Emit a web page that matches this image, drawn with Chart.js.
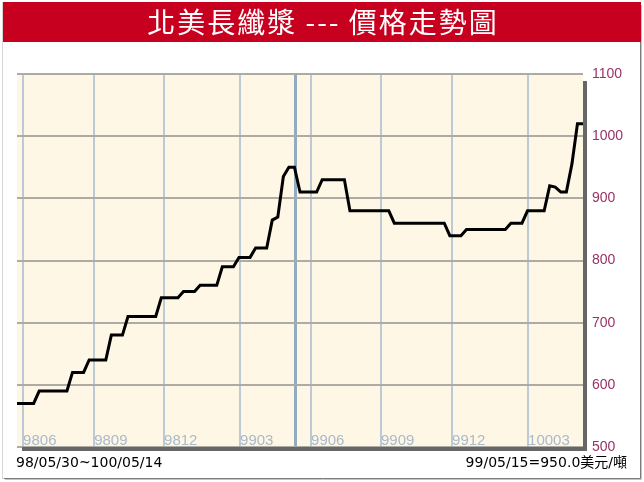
<!DOCTYPE html>
<html>
<head>
<meta charset="utf-8">
<script src="https://cdn.jsdelivr.net/npm/chart.js@4/dist/chart.umd.min.js"></script>
<style>
  html, body { margin: 0; padding: 0; background: #fff; }
  #wrap { width: 644px; height: 482px; }
</style>
</head>
<body>
<div id="wrap"><canvas id="priceChart" width="644" height="482"></canvas></div>
<script>
/* 北美長纖漿 price chart */

const titleText  = '北美長纖漿 --- 價格走勢圖';
const rangeText  = '98/05/30~100/05/14';
const markText   = '99/05/15=950.0美元/噸';

// weekly prices (美元/噸), 98/05/30 .. 100/05/14
const prices = [
    570, 570, 570, 570,
    590, 590, 590, 590, 590, 590,
    620, 620, 620,
    640, 640, 640, 640,
    680, 680, 680,
    710, 710, 710, 710, 710, 710,
    740, 740, 740, 740,
    750, 750, 750,
    760, 760, 760, 760,
    790, 790, 790,
    805, 805, 805,
    820, 820, 820,
    865, 870,
    935, 950, 950,
    910, 910, 910, 910,
    930, 930, 930, 930, 930,
    880, 880, 880, 880, 880, 880, 880, 880,
    860, 860, 860, 860, 860, 860, 860, 860, 860, 860,
    840, 840, 840,
    850, 850, 850, 850, 850, 850, 850, 850,
    860, 860, 860,
    880, 880, 880, 880,
    920, 918,
    910, 910,
    955, 1020, 1020
];

const monthLabels = ['9806', '9809', '9812', '9903', '9906', '9909', '9912', '10003'];
const monthPos    = [1.1, 13.9, 26.5, 40.2, 53.0, 65.6, 78.4, 92.1];
const markPos     = 50.1;   // 99/05/15
const yMin = 500, yMax = 1100, yStep = 100;

/* ── x ticks: month lines + marker line ── */
const xTicks = monthPos.map((v, i) => ({ value: v, label: monthLabels[i] }));
xTicks.push({ value: markPos, label: '' });
xTicks.sort((a, b) => a.value - b.value);

const framePlugin = {
    id: 'frame',
    beforeDraw(chart) {
        const { ctx, chartArea: a, width, height } = chart;
        ctx.save();
        ctx.fillStyle = '#fff';
        ctx.fillRect(0, 0, width, height);

        // outer frame
        ctx.strokeStyle = '#d6d6d6';
        ctx.lineWidth = 1;
        ctx.strokeRect(2.5, 2.5, width - 6, height - 6);
        ctx.strokeStyle = '#7c7c7c';
        ctx.beginPath();
        ctx.moveTo(width - 3.5, 4); ctx.lineTo(width - 3.5, height - 3.5); ctx.lineTo(4, height - 3.5);
        ctx.stroke();
        ctx.strokeStyle = '#c4c4c4';
        ctx.beginPath();
        ctx.moveTo(width - 2.5, 5); ctx.lineTo(width - 2.5, height - 2.5); ctx.lineTo(5, height - 2.5);
        ctx.stroke();

        // title banner
        ctx.fillStyle = '#c8001f';
        ctx.fillRect(3, 2, width - 6, 40);
        ctx.fillStyle = '#fff';
        ctx.font = '28px "Noto Sans CJK TC", sans-serif';
        ctx.letterSpacing = '2px';
        ctx.textAlign = 'center';
        ctx.textBaseline = 'middle';
        ctx.fillText(titleText, width / 2 + 1, 22);
        ctx.letterSpacing = '0px';

        // plot background
        ctx.fillStyle = '#fef7e5';
        ctx.fillRect(a.left, a.top, a.right - a.left, a.bottom - a.top);
        ctx.restore();
    },
    afterDraw(chart) {
        const { ctx, chartArea: a } = chart;
        ctx.save();
        // drop shadow, right + bottom
        ctx.fillStyle = '#666';
        ctx.fillRect(a.right, a.top + 7, 4, a.bottom - a.top - 3);
        ctx.fillRect(a.left + 5, a.bottom, a.right - a.left - 1, 4);

        // footer
        ctx.fillStyle = '#000';
        ctx.textBaseline = 'middle';
        ctx.font = '14px "DejaVu Sans", "Noto Sans CJK TC", sans-serif';
        ctx.textAlign = 'left';
        ctx.fillText(rangeText, 16, 463);
        ctx.textAlign = 'right';
        ctx.fillText(markText, 627, 463);
        ctx.restore();
    }
};

new Chart(document.getElementById('priceChart').getContext('2d'), {
    type: 'line',
    data: {
        datasets: [{
            data: prices.map((v, i) => ({ x: i, y: v })),
            borderColor: '#000',
            borderWidth: 3,
            pointRadius: 0,
            tension: 0,
            fill: false
        }]
    },
    options: {
        responsive: false,
        animation: false,
        events: [],
        layout: { padding: { left: 17, top: 74, right: 0, bottom: 35 } },
        plugins: { legend: { display: false }, title: { display: false }, tooltip: { enabled: false } },
        scales: {
            x: {
                type: 'linear',
                min: 0,
                max: prices.length - 1,
                afterBuildTicks: s => { s.ticks = xTicks.map(t => ({ value: t.value })); },
                afterFit: s => { s.height = 0; },
                border: { display: false },
                grid: {
                    drawTicks: false,
                    color: c => (c.tick && c.tick.value === markPos) ? '#93abc2' : '#bccad6',
                    lineWidth: c => (c.tick && c.tick.value === markPos) ? 3 : 2
                },
                ticks: {
                    autoSkip: false,
                    maxRotation: 0,
                    align: 'start',
                    mirror: true,
                    padding: -3,
                    color: '#a9bacb',
                    font: { family: '"Liberation Sans", Arial, sans-serif', size: 15 },
                    callback: (v, i) => xTicks[i] ? xTicks[i].label : ''
                }
            },
            y: {
                position: 'right',
                min: yMin,
                max: yMax,
                afterFit: s => { s.width = 61; },
                border: { display: false },
                grid: { drawTicks: false, color: '#acaca4', lineWidth: 2 },
                ticks: {
                    stepSize: yStep,
                    padding: 9,
                    color: '#993366',
                    font: { family: '"Liberation Sans", Arial, sans-serif', size: 14 },
                    callback: v => String(v)
                }
            }
        }
    },
    plugins: [framePlugin]
});
</script>
</body>
</html>
